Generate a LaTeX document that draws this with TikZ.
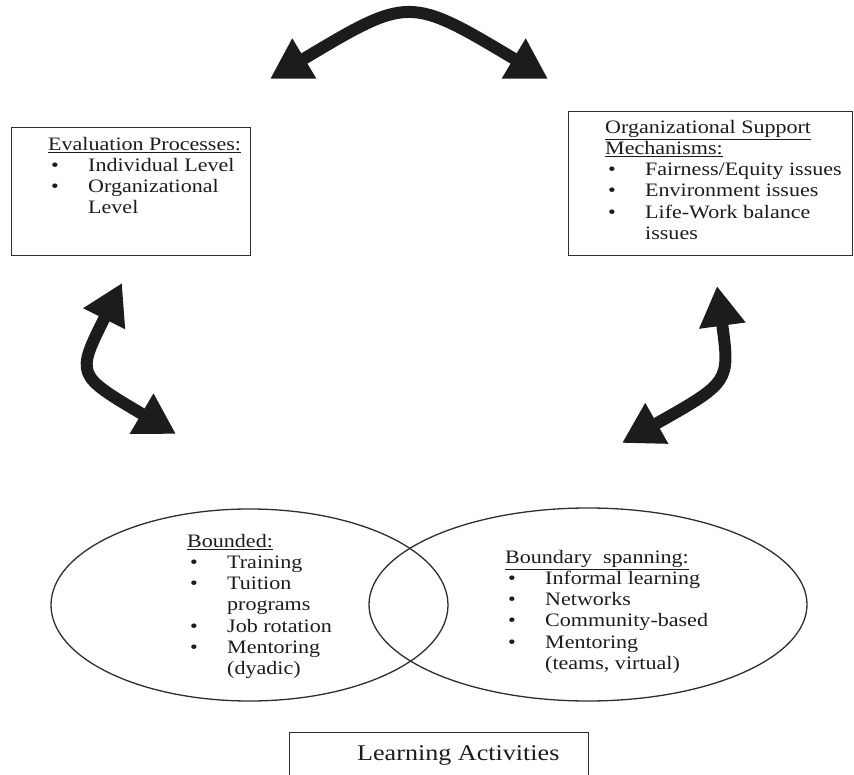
\documentclass[tikz,border=0pt]{standalone}
\usepackage{fontspec}
\setmainfont{Liberation Serif}[FakeStretch=1.16]
\usepackage{tikz}
\usetikzlibrary{arrows.meta, positioning, shapes.geometric}
\usepackage{xcolor}
\definecolor{inkblack}{HTML}{1C1C1C}
\definecolor{rulegray}{HTML}{2E2E2E}

\newcommand{\bitem}[1]{\makebox[40pt][l]{\hspace{3pt}\textbullet}#1}
\newcommand{\bmore}[1]{\hspace*{40pt}#1}

\begin{document}
\begin{tikzpicture}[x=1pt, y=-1pt,
    framebox/.style={draw=rulegray, line width=1.3pt, anchor=north west, inner sep=0pt},
    listtext/.style={anchor=north west, inner sep=0pt, align=left, text=inkblack, font=\fontsize{19}{21.2}\selectfont},
    setoval/.style={draw=rulegray, ellipse, line width=1.3pt, inner sep=0pt},
    twoway/.style={draw=inkblack, line width=12pt, {Triangle[length=40pt,width=44pt]}-{Triangle[length=40pt,width=44pt]}}]
    \useasboundingbox (0,0) rectangle (854,775);
    \clip (0,0) rectangle (854,775);

    \node[framebox, minimum width=239pt, minimum height=128pt] (evalbox) at (11,127) {};
    \node[listtext, below right=10pt and 37pt of evalbox.north west] (evaltext) {
        \underline{Evaluation Processes:}\\
        \bitem{Individual Level}\\
        \bitem{Organizational}\\
        \bmore{Level}
    };

    \node[framebox, minimum width=284pt, minimum height=144pt] (supportbox) at (568,111) {};
    \node[listtext, below right=9pt and 37pt of supportbox.north west] (supporttext) {
        \underline{Organizational Support}\\
        \underline{Mechanisms:}\\
        \bitem{Fairness/Equity issues}\\
        \bitem{Environment issues}\\
        \bitem{Life-Work balance}\\
        \bmore{issues}
    };

    \node[setoval, minimum width=397pt, minimum height=192pt] (bounded) at (249.5,605) {};
    \node[setoval, minimum width=438pt, minimum height=193pt] (spanning) at (588,604.5) {};
    \node[listtext, anchor=north west] (boundedtext) at (187,534) {
        \underline{Bounded:}\\
        \bitem{Training}\\
        \bitem{Tuition}\\
        \bmore{programs}\\
        \bitem{Job rotation}\\
        \bitem{Mentoring}\\
        \bmore{(dyadic)}
    };
    \node[listtext, anchor=north west] (spanningtext) at (505,550) {
        \underline{Boundary\ \ spanning:}\\
        \bitem{Informal learning}\\
        \bitem{Networks}\\
        \bitem{Community-based}\\
        \bitem{Mentoring}\\
        \bmore{(teams, virtual)}
    };

    \node[framebox, minimum width=299pt, minimum height=80pt] (learnbox) at (289,732) {};
    \node[anchor=base west, inner sep=0pt, text=inkblack, font=\fontsize{22.5}{26}\selectfont]
        (learntext) at ([xshift=68pt, yshift=-28pt]learnbox.north west) {Learning Activities};

    \coordinate (topleft) at (270,79);
    \coordinate (topright) at (548,79);
    \coordinate (evalend) at (122,283);
    \coordinate (boundedend) at (176,434);
    \coordinate (supportend) at (717,286);
    \coordinate (spanningend) at (622,443);

    \draw[twoway] (topleft) .. controls (409,-4) .. (topright);
    \draw[twoway] (evalend) .. controls (76,375) .. (boundedend);
    \draw[twoway] (supportend) .. controls (730,382) .. (spanningend);
\end{tikzpicture}
\end{document}
